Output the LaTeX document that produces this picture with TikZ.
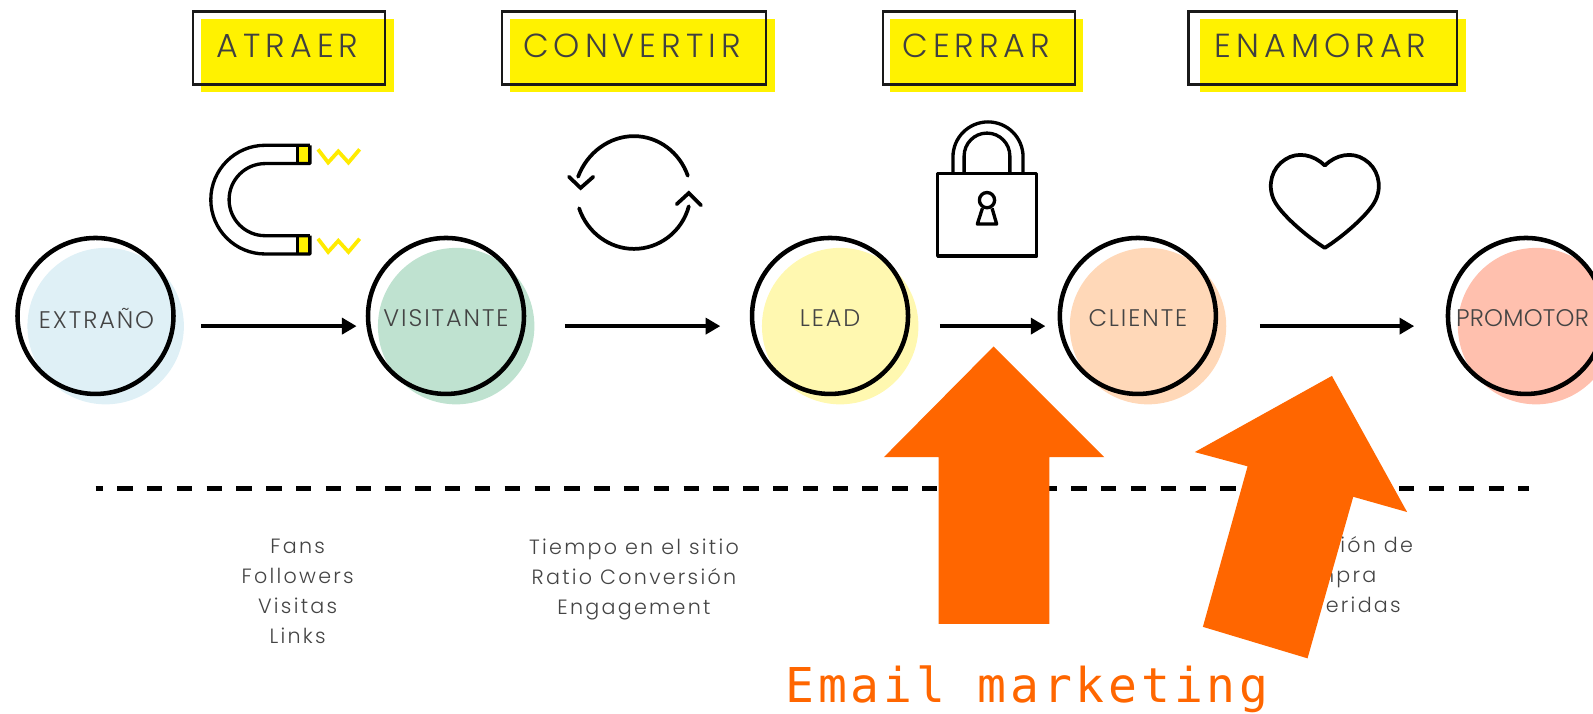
\documentclass[tikz,border=0pt]{standalone}
\usepackage{fontspec}
\usetikzlibrary{arrows.meta}
\setmainfont{Poppins}[UprightFont=* Light]
\newfontfamily\boxfont{Poppins}[UprightFont=* Light,LetterSpace=15]
\newfontfamily\circfont{Poppins}[UprightFont=* Light,LetterSpace=8]
\newfontfamily\promfont{Poppins}[UprightFont=* Light,LetterSpace=1]
\newfontfamily\listfont{Poppins}[UprightFont=* Light,LetterSpace=11]
\newfontfamily\emailfont{DejaVu Sans Mono}[LetterSpace=7.9]
\definecolor{boxyellow}{HTML}{FFF200}
\definecolor{zigyellow}{HTML}{FFEB00}
\definecolor{orangeA}{HTML}{FF6600}
\definecolor{shA}{HTML}{DFF0F6}
\definecolor{shB}{HTML}{BFE2D0}
\definecolor{shC}{HTML}{FFF8B0}
\definecolor{shD}{HTML}{FFD8B8}
\definecolor{shE}{HTML}{FFC0AE}
\definecolor{txt}{HTML}{444444}
\tikzset{
 yellowrect/.style={fill=boxyellow,draw=none},
 framerect/.style={draw=black!90,line width=2pt,fill=none},
 boxlabel/.style={font=\boxfont\fontsize{25}{25}\selectfont,text=black!75,inner sep=0pt,anchor=center},
 stage/.style={circle,draw=black,line width=3.4pt,minimum size=117pt,inner sep=0pt},
 stagelabel/.style={font=\circfont\fontsize{18}{18}\selectfont,text=txt,inner sep=0pt},
 shadow/.style={fill=#1,draw=none},
 flow/.style={line width=3pt,-{Triangle[length=11pt,width=12pt]}},
 icon/.style={line width=2.5pt,line join=round,draw=black},
 iconround/.style={line width=2.8pt,line cap=round,draw=black},
 zig/.style={line width=2.8pt,draw=zigyellow},
 kpi/.style={font=\listfont\fontsize{15.5}{22.5}\selectfont,text=txt,align=center,inner sep=0pt},
 bigarrow/.style={fill=orangeA,draw=none},
}
\begin{document}
\begin{tikzpicture}[x=0.762pt,y=-0.762pt]
\useasboundingbox (0,0) rectangle (1568,702);
% header boxes
\fill[yellowrect] (198,19) rectangle (388,91);
\fill[yellowrect] (502,19) rectangle (763,91);
\fill[yellowrect] (876,19) rectangle (1066,91);
\fill[yellowrect] (1181,19) rectangle (1443,91);
\draw[framerect] (190,11) rectangle (379,83);
\draw[framerect] (494,11) rectangle (754,83);
\draw[framerect] (869,11) rectangle (1058,83);
\draw[framerect] (1170,11) rectangle (1434,83);
\node[boxlabel] (atraer) at (283,45) {ATRAER};
\node[boxlabel] (convertir) at (622,45) {CONVERTIR};
\node[boxlabel] (cerrar) at (961,45) {CERRAR};
\node[boxlabel] (enamorar) at (1300,45) {ENAMORAR};
% magnet
\fill[boxyellow] (293,143) rectangle (305,161);
\fill[boxyellow] (293,232) rectangle (305,250);
\draw[icon] (305,143) -- (261,143) arc[start angle=270,end angle=90,radius=53.5] -- (305,250) -- (305,232);
\draw[icon] (305,143) -- (305,161) -- (261,161) arc[start angle=270,end angle=90,radius=35.5] -- (305,232);
\draw[icon] (293,143) -- (293,161) (293,232) -- (293,250);
\draw[zig] (313,147) -- (323,160) -- (333,149) -- (343,160) -- (354,147);
\draw[zig] (313,235) -- (323,248) -- (333,237) -- (343,248) -- (354,235);
% cycle
\draw[iconround] (569,174) .. controls (578,150) and (600,134) .. (624,134) .. controls (648,134) and (669,150) .. (677,173);
\draw[iconround] (570,205) .. controls (578,229) and (600,245) .. (624,245) .. controls (648,245) and (671,229) .. (678,203);
\draw[icon,line width=2.8pt,line cap=round,line join=miter] (560,174) -- (571.5,185) -- (584,174);
\draw[icon,line width=2.8pt,line cap=round,line join=miter] (666,201) -- (678,190) -- (690,202);
% lock
\draw[icon] (923,171) rectangle (1020.5,252);
\draw[icon] (938,171) -- (938,154.5) arc[start angle=180,end angle=360,radius=34.5] -- (1007,171);
\draw[icon] (949,171) -- (949,153.5) arc[start angle=180,end angle=360,radius=22.5] -- (994,171);
\draw[icon] (971.5,197) circle[radius=7.5];
\draw[icon] (967,205) -- (962,220.5) -- (981,220.5) -- (976.5,205);
% heart
\draw[icon,line width=2.8pt] (1304,163) .. controls (1293,152) and (1277,149) .. (1265,157) .. controls (1252,165) and (1247,182) .. (1254,197) .. controls (1260,210) and (1285,232) .. (1304,244) .. controls (1323,232) and (1348,210) .. (1354,197) .. controls (1361,182) and (1356,165) .. (1343,157) .. controls (1331,149) and (1315,152) .. (1304,163) -- cycle;
% stages
\fill[shadow=shA] (104,321) circle[radius=77];
\fill[shadow=shB] (449,321) circle[radius=77];
\fill[shadow=shC] (827,321) circle[radius=77];
\fill[shadow=shD] (1130,321) circle[radius=77];
\fill[shadow=shE] (1512,321) circle[radius=77];
\node[stage] (extrano) at (94,311) {};
\node[stage] (visitante) at (439,311) {};
\node[stage] (lead) at (817,311) {};
\node[stage] (cliente) at (1120,311) {};
\node[stage] (promotor) at (1502,311) {};
\node[stagelabel] (t1) at (95,313) {EXTRAÑO};
\node[stagelabel] (t2) at (439,313) {VISITANTE};
\node[stagelabel] (t3) at (817,313) {LEAD};
\node[stagelabel] (t4) at (1120,313) {CLIENTE};
\node[stagelabel,font=\promfont\fontsize{18}{18}\selectfont,anchor=west] (t5) at (1433,313) {PROMOTOR};
% flow arrows
\coordinate (a1) at (198,321); \coordinate (b1) at (351,321);
\coordinate (a2) at (556,321); \coordinate (b2) at (709,321);
\coordinate (a3) at (925,321); \coordinate (b3) at (1029,321);
\coordinate (a4) at (1240,321); \coordinate (b4) at (1392,321);
\draw[flow] (a1) -- (b1);
\draw[flow] (a2) -- (b2);
\draw[flow] (a3) -- (b3);
\draw[flow] (a4) -- (b4);
% dashed separator
\coordinate (d1) at (94,481); \coordinate (d2) at (1505,481);
\draw[line width=3.4pt,dash pattern=on 11.5pt off 10.86pt,dash phase=6.1pt] (d1) -- (d2);
% KPI lists
\node[kpi,anchor=north] (k1) at (293,530) {Fans\\Followers\\Visitas\\Links};
\node[kpi,anchor=north] (k2) at (624,530) {Tiempo en el sitio\\Ratio Conversión\\Engagement};
\node[kpi,anchor=base east] (k3) at (1391,544) {ión de};
\node[kpi,anchor=base east] (k4) at (1355,573) {mpra};
\node[kpi,anchor=base east] (k5) at (1379,603) {eridas};
% big orange arrows
\fill[bigarrow] (978,341) -- (1087,450) -- (1033,450) -- (1033,614) -- (924,614) -- (924,450) -- (870,450) -- cycle;
\fill[bigarrow] (1311,370) -- (1385,504) -- (1332,489) -- (1287,648) -- (1184,617) -- (1228,459) -- (1176,445) -- cycle;
\node[font=\emailfont\fontsize{36}{36}\selectfont,text=orangeA,anchor=base west,inner sep=0pt] (email) at (773,691) {Email marketing};
\end{tikzpicture}
\end{document}
